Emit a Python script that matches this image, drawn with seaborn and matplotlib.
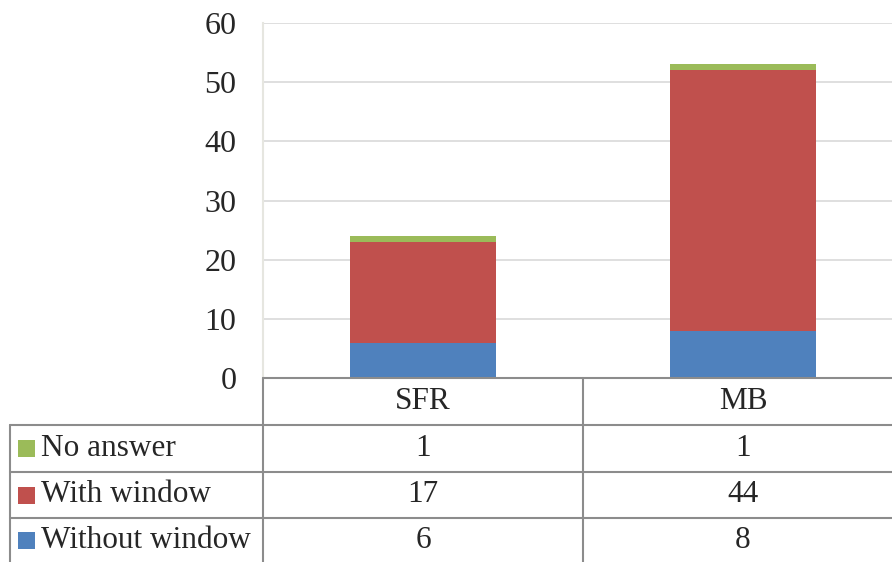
import matplotlib
matplotlib.use("Agg")
import matplotlib.pyplot as plt
from matplotlib.lines import Line2D
from matplotlib.patches import Rectangle
import seaborn as sns
import pandas as pd
import numpy as np

categories = ["SFR", "MB"]
series_names = ["No answer", "With window", "Without window"]
without_window = [6, 8]
with_window = [17, 44]
no_answer = [1, 1]
colors = {"Without window": "#4F81BD", "With window": "#C0504D", "No answer": "#9BBB59"}
yticks = [0, 10, 20, 30, 40, 50, 60]

sns.set_theme(style="white")
plt.rcParams["font.family"] = ["Liberation Serif", "DejaVu Serif"]

W, H = 892, 562
fig = plt.figure(figsize=(W / 100, H / 100), dpi=100)

def fx(px):
    return px / W

def fy(py):
    return 1 - py / H

# plot area (the last column runs slightly past the right edge of the figure)
x0, x1, ytop, ybot = 263, 903, 23, 378
ax = fig.add_axes([fx(x0), fy(ybot), fx(x1) - fx(x0), fy(ytop) - fy(ybot)])

df = pd.DataFrame({
    "category": categories,
    "Without window": without_window,
    "With window": with_window,
    "No answer": no_answer,
})

bottom = np.zeros(len(categories))
for name in ["Without window", "With window", "No answer"]:
    sns.barplot(data=df, x="category", y=name, color=colors[name], width=0.456,
                bottom=bottom, ax=ax, saturation=1, edgecolor="none", zorder=3)
    bottom = bottom + df[name].to_numpy()

ax.set_ylim(0, 60)
ax.set_xlim(-0.5, 1.5)
ax.set_yticks(yticks)
ax.set_yticklabels([str(t) for t in yticks], fontsize=23)
ax.tick_params(axis="y", length=0, pad=19)
ax.set_xticks([])
ax.set_xlabel("")
ax.set_ylabel("")
ax.yaxis.grid(True, color="#d9d9d9", linewidth=1.2, zorder=0)
for s in ["top", "right", "bottom"]:
    ax.spines[s].set_visible(False)
ax.spines["left"].set_color("#e6e6e0")
ax.spines["left"].set_linewidth(1.5)

# data table below the plot area
line_kw = dict(color="#8c8c8c", linewidth=1.5, transform=fig.transFigure)
col_split = 583
row_y = [378, 425, 472, 518, 562]
left_x = 10

fig.add_artist(Line2D([fx(x0), fx(x1)], [fy(378), fy(378)], **line_kw))
for yy in row_y[1:4]:
    fig.add_artist(Line2D([fx(left_x), fx(x1)], [fy(yy), fy(yy)], **line_kw))
fig.add_artist(Line2D([fx(x0), fx(x0)], [fy(378), fy(562)], **line_kw))
fig.add_artist(Line2D([fx(col_split), fx(col_split)], [fy(378), fy(562)], **line_kw))
fig.add_artist(Line2D([fx(left_x), fx(left_x)], [fy(425), fy(562)], **line_kw))

col_centers = [(x0 + col_split) / 2, (col_split + x1) / 2]
header_y = (378 + 425) / 2
for cx, cat in zip(col_centers, categories):
    fig.text(fx(cx), fy(header_y), cat, ha="center", va="center", fontsize=22.5)

table_values = {"No answer": no_answer, "With window": with_window, "Without window": without_window}
for i, name in enumerate(series_names):
    cy = (row_y[i + 1] + row_y[i + 2]) / 2
    fig.add_artist(Rectangle((fx(18), fy(cy + 8.5)), fx(17), fy(0) - fy(17),
                             facecolor=colors[name], edgecolor="none",
                             transform=fig.transFigure))
    fig.text(fx(41), fy(cy), name, ha="left", va="center", fontsize=22.5)
    for cx, v in zip(col_centers, table_values[name]):
        fig.text(fx(cx), fy(cy), str(v), ha="center", va="center", fontsize=22.5)

fig.savefig("out.png", dpi=100)
